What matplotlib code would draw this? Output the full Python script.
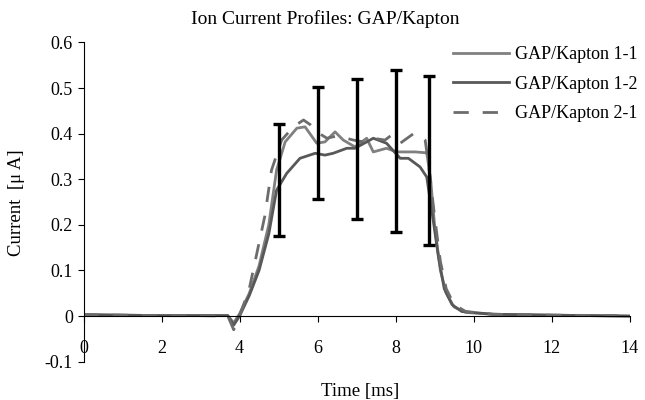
import matplotlib.pyplot as plt

plt.rcParams['font.family'] = ['Liberation Serif', 'DejaVu Serif']

# values
t_11 = [0, 1, 2, 3, 3.7, 3.85, 4.0, 4.25, 4.5, 4.75, 4.95, 5.17, 5.47, 5.68, 5.98, 6.19, 6.45,
        6.66, 6.96, 7.26, 7.43, 7.77, 8.03, 8.5, 8.8, 8.9, 9.0, 9.15, 9.3, 9.5, 9.8, 10.5, 12, 14]
v_11 = [0.003, 0.002, 0.001, 0.001, 0.001, -0.015, 0.005, 0.05, 0.11, 0.2, 0.32, 0.382, 0.412, 0.415,
        0.379, 0.382, 0.404, 0.386, 0.371, 0.39, 0.36, 0.368, 0.36, 0.36, 0.358, 0.3, 0.2, 0.1, 0.05,
        0.02, 0.008, 0.004, 0.002, 0.0]

t_12 = [0, 1, 2, 3, 3.7, 3.85, 4.0, 4.25, 4.5, 4.75, 4.95, 5.21, 5.55, 5.94, 6.19, 6.4, 6.75, 6.96,
        7.26, 7.43, 7.77, 8.12, 8.33, 8.63, 8.8, 8.95, 9.1, 9.25, 9.45, 9.7, 10.5, 12, 14]
v_12 = [0.003, 0.002, 0.001, 0.001, 0.001, -0.02, 0.0, 0.045, 0.1, 0.18, 0.276, 0.313, 0.346, 0.357,
        0.353, 0.357, 0.368, 0.368, 0.382, 0.39, 0.379, 0.346, 0.346, 0.327, 0.305, 0.22, 0.13, 0.06,
        0.025, 0.01, 0.004, 0.002, 0.0]

t_21 = [0, 1, 2, 3, 3.7, 3.85, 4.0, 4.25, 4.5, 4.65, 4.82, 5.08, 5.38, 5.64, 5.81, 5.98, 6.24, 6.5,
        6.92, 7.18, 7.43, 7.73, 7.9, 8.12, 8.46, 8.63, 8.76, 8.85, 9.0, 9.15, 9.3, 9.5, 9.8, 10.5, 12, 13.7]
v_21 = [0.003, 0.002, 0.001, 0.001, 0.0, -0.03, 0.0, 0.06, 0.16, 0.22, 0.32, 0.386, 0.415, 0.43, 0.42,
        0.404, 0.39, 0.395, 0.386, 0.382, 0.39, 0.386, 0.397, 0.379, 0.40, 0.397, 0.386, 0.33, 0.22,
        0.12, 0.06, 0.025, 0.01, 0.004, 0.002, 0.001]

err_t = [5, 6, 7, 8, 8.85]
err_lo = [0.175, 0.257, 0.213, 0.184, 0.155]
err_hi = [0.422, 0.503, 0.519, 0.539, 0.526]

labels = ['GAP/Kapton 1-1', 'GAP/Kapton 1-2', 'GAP/Kapton 2-1']

fig = plt.figure(figsize=(6.45, 4.0), dpi=100)
ax = fig.add_axes([0.1295, 0.0958, 0.8465, 0.798])

l1, = ax.plot(t_11, v_11, color='#808080', lw=2.0)
l2, = ax.plot(t_12, v_12, color='#585858', lw=2.0)
l3, = ax.plot(t_21, v_21, color='#6c6c6c', lw=2.0, dashes=(5.5, 5))

mid = [(a + b) / 2 for a, b in zip(err_lo, err_hi)]
half = [(b - a) / 2 for a, b in zip(err_lo, err_hi)]
ax.errorbar(err_t, mid, yerr=half, fmt='none', ecolor='black', elinewidth=2.4,
            capsize=4.5, capthick=2.4, zorder=5)

ax.set_xlim(0, 14)
ax.set_ylim(-0.1, 0.6)
ax.set_xticks(range(0, 15, 2))
ax.set_yticks([-0.1, 0, 0.1, 0.2, 0.3, 0.4, 0.5, 0.6])
ax.set_yticklabels(['-0.1', '0', '0.1', '0.2', '0.3', '0.4', '0.5', '0.6'])
ax.spines['top'].set_visible(False)
ax.spines['right'].set_visible(False)
ax.spines['bottom'].set_position(('data', 0))
ax.tick_params(axis='both', labelsize=13, direction='out', length=4, width=0.8)
ax.tick_params(axis='x', pad=13)

fig.text(0.505, 0.952, 'Ion Current Profiles: GAP/Kapton', ha='center', va='center', fontsize=14)
ax.set_ylabel('Current  [\u03bc A]', fontsize=13.5)
ax.yaxis.set_label_coords(-0.107, 0.497)
fig.text(0.558, 0.022, 'Time [ms]', ha='center', va='center', fontsize=13.5)

fig.legend([l1, l2, l3], labels, loc='upper left', bbox_to_anchor=(0.703, 0.885),
           frameon=False, fontsize=13, handlelength=3.1, handletextpad=0.3,
           labelspacing=0.7, borderpad=0, borderaxespad=0)

fig.savefig('out.png', dpi=100)
